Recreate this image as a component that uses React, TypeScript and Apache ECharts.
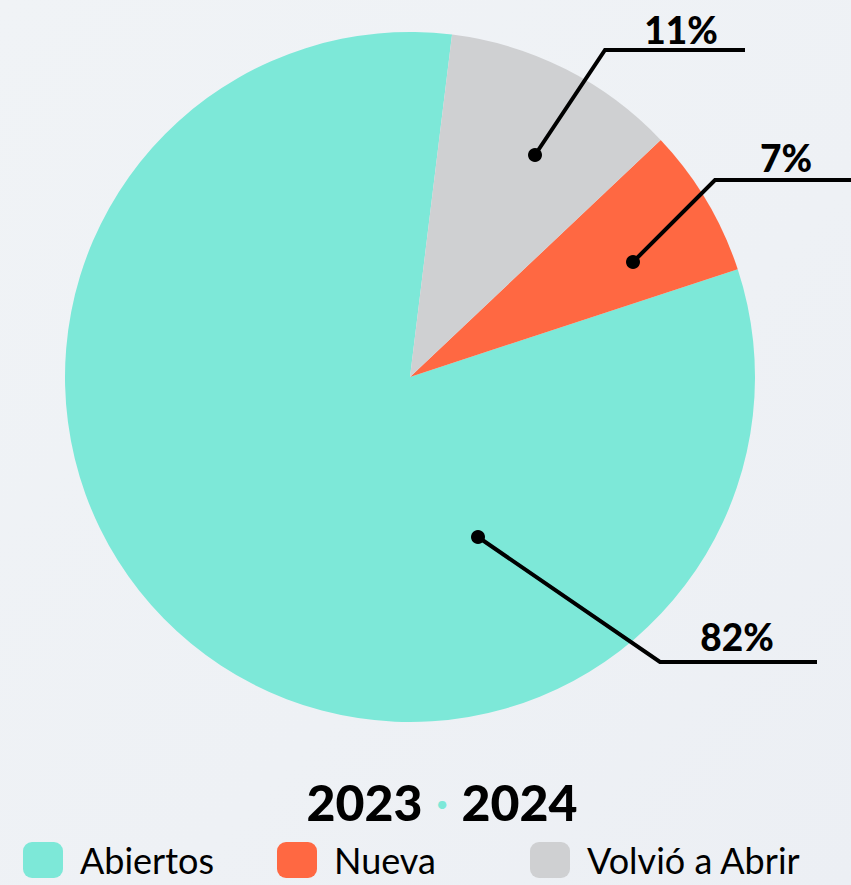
import React, { useEffect, useRef } from "react";
import * as echarts from "echarts";

const categories = ["Abiertos", "Nueva", "Volvió a Abrir"];
const values = [82, 7, 11];
const colors = ["#7de8d8", "#ff6842", "#cfd0d2"];
const years = ["2023", "2024"];

// annotation geometry (label callouts): dot, elbow, end, label centre
const callouts: { dot: number[]; elbow: number[]; end: number[]; text: number[] }[] = [
  { dot: [478, 537], elbow: [660, 662], end: [817, 662], text: [737, 636] },
  { dot: [633, 262], elbow: [715, 180], end: [851, 180], text: [786, 157] },
  { dot: [535, 155], elbow: [605, 50], end: [745, 50], text: [681, 29] },
];
const legendLefts = [18, 272, 525];

const FONT = "Lato, 'Noto Sans', sans-serif";

export default function App() {
  const ref = useRef<HTMLDivElement>(null);
  useEffect(() => {
    if (!ref.current) return;
    const chart = echarts.init(ref.current, undefined, { renderer: "svg" });
    const data = categories.map((name, i) => ({
      name,
      value: values[i],
      itemStyle: { color: colors[i] },
    }));
    const graphics: any[] = [];
    callouts.forEach((c) => {
      graphics.push({
        type: "polyline",
        z: 100,
        shape: { points: [c.dot, c.elbow, c.end] },
        style: { stroke: "#000", lineWidth: 4, fill: null, lineJoin: "miter" },
      });
      graphics.push({
        type: "circle",
        z: 101,
        shape: { cx: c.dot[0], cy: c.dot[1], r: 7 },
        style: { fill: "#000" },
      });
    });
    chart.setOption({
      animation: false,
      backgroundColor: {
        type: "linear",
        x: 0,
        y: 0,
        x2: 1,
        y2: 1,
        colorStops: [
          { offset: 0, color: "#f0f3f6" },
          { offset: 0.6, color: "#eef1f5" },
          { offset: 1, color: "#eceff4" },
        ],
      },
      title: {
        text: `{y|${years[0]}}{d|·}{y|${years[1]}}`,
        left: 437,
        top: 772,
        textAlign: "center",
        textStyle: {
          rich: {
            y: { fontFamily: FONT, fontSize: 50, fontWeight: 900, color: "#000" },
            d: { fontFamily: FONT, fontSize: 40, fontWeight: 900, color: "#7de8d8", padding: [0, 14] },
          },
        },
      },
      legend: categories.map((c, i) => ({
        left: legendLefts[i],
        top: 837,
        itemWidth: 40,
        itemHeight: 36,
        icon: "roundRect",
        data: [c],
        selectedMode: false,
        textStyle: {
          fontFamily: FONT,
          fontSize: 36,
          lineHeight: 36,
          color: "#000",
          padding: [0, 0, 0, 12],
        },
      })),
      series: [
        {
          type: "pie",
          center: [410, 377],
          radius: [0, 345],
          startAngle: 83,
          clockwise: false,
          data,
          label: {
            show: true,
            position: "outside",
            formatter: "{c}%",
            fontFamily: FONT,
            fontSize: 37,
            fontWeight: 900,
            color: "#000",
          },
          labelLine: { show: false },
          labelLayout: (params: any) => {
            const c = callouts[params.dataIndex];
            return {
              x: c.text[0],
              y: c.text[1],
              align: "center",
              verticalAlign: "middle",
            };
          },
          emphasis: { disabled: true },
        },
      ],
      graphic: graphics,
    });
    return () => chart.dispose();
  }, []);
  return (
    <div
      ref={ref}
      style={{ position: "fixed", left: 0, top: 0, width: 851, height: 885 }}
    />
  );
}
